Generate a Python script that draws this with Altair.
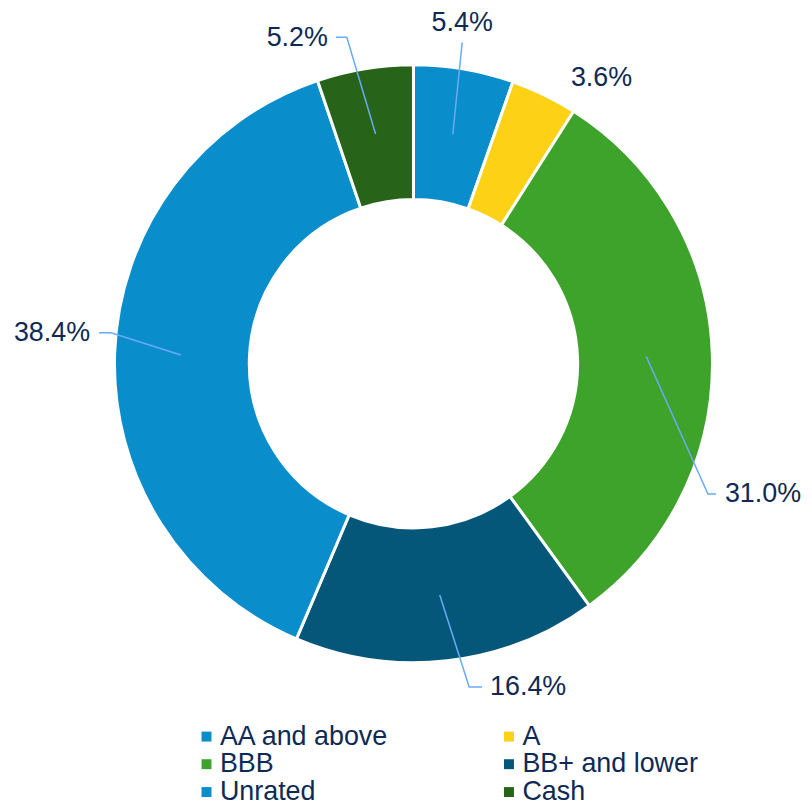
import math
import altair as alt
import pandas as pd

# ---------------- data ----------------
categories = ["AA and above", "A", "BBB", "BB+ and lower", "Unrated", "Cash"]
values = [5.4, 3.6, 31.0, 16.4, 38.4, 5.2]
labels = ["5.4%", "3.6%", "31.0%", "16.4%", "38.4%", "5.2%"]

# ---------------- styling / layout ----------------
colors = ["#0A8DCB", "#FCD116", "#3DA32A", "#05577A", "#0A8DCB", "#27641A"]
TEXT = "#0E2A54"
LEADER = "#6AAAF7"
FONT = "Liberation Sans"
FS = 27

W, H = 800, 795
CX, CY = 407.5, 355.5      # donut centre inside the plot area
R_OUT, R_IN = 300.5, 165
R_ANCHOR = 234             # where leader lines start (middle of the ring)

# label placement relative to centre (pixels, y up): (elbow, end of leader, text pos, align)
label_layout = [
    ((49, 323), (49, 323), (49, 342), "center"),
    (None, None, (189, 287), "center"),
    ((296, -131), (304, -131), (313, -131), "left"),
    ((56, -325), (69, -325), (77, -325), "left"),
    ((-304, 31), (-316, 31), (-325, 31), "right"),
    ((-67, 328), (-78, 328), (-86, 327), "right"),
]

# legend shows two columns filled column-wise -> order the legend domain accordingly
legend_order = [0, 2, 4, 1, 3, 5]

# ---------------- tables ----------------
df = pd.DataFrame({"cat": categories, "value": values, "idx": range(len(values))})

total = sum(values)
lines_rows, text_rows = [], []
cum = 0.0
for i, (c, v, lab) in enumerate(zip(categories, values, labels)):
    mid = (cum + v / 2) / total * 2 * math.pi
    cum += v
    ax, ay = R_ANCHOR * math.sin(mid), R_ANCHOR * math.cos(mid)
    elbow, end, tpos, align = label_layout[i]
    if elbow is not None:
        for k, (px, py) in enumerate([(ax, ay), elbow, end]):
            lines_rows.append({"cat": c, "k": k, "x": px, "y": py})
    text_rows.append({"cat": c, "label": lab, "x": tpos[0], "y": tpos[1], "align": align})

lines_df = pd.DataFrame(lines_rows)
text_df = pd.DataFrame(text_rows)

xs = alt.Scale(domain=[-CX, W - CX])
ys = alt.Scale(domain=[CY - H, CY])

dom = [categories[i] for i in legend_order]
rng = [colors[i] for i in legend_order]

color = alt.Color(
    "cat:N",
    sort=dom,
    scale=alt.Scale(domain=dom, range=rng),
    legend=alt.Legend(
        title=None,
        orient="none",
        legendX=182,
        legendY=716.5,
        columns=2,
        columnPadding=103,
        rowPadding=0,
        symbolType="square",
        symbolSize=100,
        symbolStrokeWidth=0,
        symbolOffset=4,
        labelFontSize=FS,
        labelFont=FONT,
        labelColor=TEXT,
        labelOffset=0,
        labelLimit=400,
    ),
)

arcs = alt.Chart(df).mark_arc(
    innerRadius=R_IN, outerRadius=R_OUT, stroke="white", strokeWidth=3
).encode(
    theta=alt.Theta("value:Q", stack=True),
    color=color,
    order=alt.Order("idx:Q"),
    x=alt.value(CX),
    y=alt.value(CY),
)

leaders = alt.Chart(lines_df).mark_line(color=LEADER, strokeWidth=1.5).encode(
    x=alt.X("x:Q", scale=xs, axis=None),
    y=alt.Y("y:Q", scale=ys, axis=None),
    detail="cat:N",
    order="k:Q",
)

def text_layer(al):
    return alt.Chart(text_df).transform_filter(
        alt.datum.align == al
    ).mark_text(
        align=al, baseline="middle", fontSize=FS, font=FONT, color=TEXT
    ).encode(
        x=alt.X("x:Q", scale=xs, axis=None),
        y=alt.Y("y:Q", scale=ys, axis=None),
        text="label:N",
    )

chart = alt.layer(
    arcs, leaders, text_layer("left"), text_layer("center"), text_layer("right")
).properties(
    width=W, height=H, padding=0, autosize=alt.AutoSizeParams(type="none")
).configure_view(stroke=None)

chart.save("out.html", embed_options={"renderer": "svg", "actions": False})
